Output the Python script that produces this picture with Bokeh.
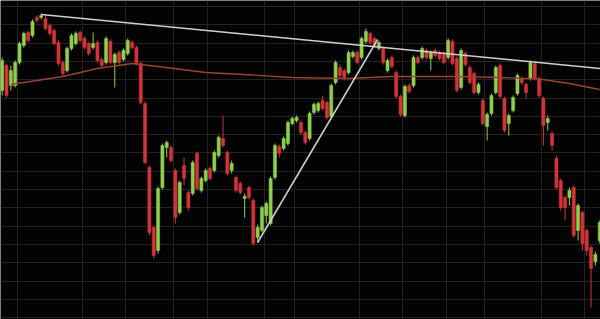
from bokeh.plotting import figure
from bokeh.models import Range1d, FixedTicker, ColumnDataSource
from bokeh.embed import file_html
from bokeh.resources import INLINE
import numpy as np

# Daily OHLC prices, one entry per session
opens = [310, 335, 315, 315, 338, 355, 368, 365, 383, 383, 382, 375, 370, 358, 338, 330, 352, 357, 368, 362,
         357, 353, 358, 341, 338, 359, 338, 348, 341, 347, 358, 353, 337, 297, 233, 173, 150, 213, 253, 253,
         230, 188, 235, 208, 207, 247, 210, 220, 232, 230, 245, 262, 248, 230, 223, 217, 202, 213, 200, 163,
         170, 185, 177, 223, 254, 252, 257, 277, 280, 278, 268, 262, 288, 290, 300, 298, 284, 318, 333, 330,
         328, 344, 348, 343, 359, 367, 362, 352, 352, 330, 343, 328, 304, 285, 315, 315, 343, 343, 350, 342,
         350, 348, 347, 343, 359, 342, 313, 347, 333, 327, 308, 300, 274, 287, 308, 335, 302, 277, 290, 307,
         322, 316, 322, 337, 322, 302, 278, 267, 242, 220, 203, 203, 213, 170, 188, 170, 153, 139, 160]
highs = [343, 337, 335, 340, 359, 369, 370, 381, 385, 387, 385, 377, 372, 360, 340, 354, 367, 369, 370, 364,
         359, 368, 360, 343, 364, 361, 348, 350, 352, 362, 360, 355, 339, 299, 235, 175, 214, 257, 260, 255,
         232, 220, 243, 210, 240, 249, 224, 232, 234, 250, 265, 285, 250, 240, 225, 219, 207, 215, 202, 176,
         195, 199, 224, 257, 256, 264, 280, 284, 285, 280, 270, 289, 298, 299, 305, 300, 317, 340, 336, 332,
         350, 350, 350, 364, 372, 369, 364, 360, 354, 342, 345, 330, 306, 316, 317, 345, 345, 354, 352, 350,
         352, 350, 349, 362, 361, 344, 352, 349, 335, 329, 318, 302, 288, 307, 335, 337, 304, 287, 305, 327,
         324, 318, 340, 339, 324, 304, 285, 269, 245, 222, 205, 213, 215, 197, 190, 172, 155, 149, 180]
lows = [305, 303, 310, 313, 336, 353, 358, 363, 378, 381, 370, 365, 355, 335, 324, 328, 350, 355, 358, 351,
        345, 351, 338, 333, 336, 336, 313, 336, 339, 345, 351, 335, 296, 236, 165, 142, 147, 211, 243, 238,
        177, 186, 215, 190, 205, 210, 208, 218, 220, 228, 243, 253, 225, 227, 208, 206, 183, 201, 155, 158,
        168, 177, 175, 221, 243, 250, 255, 275, 278, 266, 256, 260, 286, 288, 290, 281, 282, 316, 322, 320,
        326, 342, 336, 341, 357, 356, 353, 350, 336, 328, 332, 302, 284, 283, 307, 313, 336, 341, 341, 330,
        343, 340, 336, 341, 335, 308, 311, 334, 316, 306, 306, 275, 260, 285, 306, 302, 268, 265, 288, 305,
        316, 302, 320, 320, 303, 255, 270, 250, 211, 190, 180, 195, 163, 160, 150, 145, 93, 135, 157]
closes = [340, 305, 330, 338, 357, 367, 360, 379, 380, 385, 372, 367, 357, 337, 327, 352, 365, 367, 360, 353,
          347, 357, 340, 335, 362, 338, 346, 338, 350, 360, 353, 337, 298, 238, 168, 145, 212, 255, 258, 240,
          183, 218, 222, 193, 238, 212, 222, 230, 222, 248, 263, 255, 227, 237, 210, 208, 204, 203, 157, 173,
          193, 197, 222, 255, 247, 262, 278, 282, 283, 268, 258, 287, 296, 297, 292, 283, 315, 338, 325, 323,
          348, 348, 338, 362, 369, 358, 355, 358, 338, 340, 334, 304, 286, 314, 309, 343, 338, 352, 343, 348,
          345, 342, 338, 360, 337, 310, 350, 336, 318, 308, 316, 277, 286, 305, 333, 304, 270, 285, 303, 325,
          318, 308, 338, 322, 305, 275, 282, 255, 213, 193, 193, 210, 165, 195, 157, 150, 132, 146, 178]

# Moving average, sampled at selected sessions
ma_idx = [2, 14, 22, 30, 36, 47, 58, 67, 80, 90, 105, 115, 124, 131, 138]
ma_val = [316, 324, 332, 337, 334, 328, 325.5, 323, 322, 324, 324, 323, 321.5, 317, 311]

# Hand-drawn trend lines: descending resistance and rising support
resist_x = [9, 138.2]
resist_y = [386, 332]
support_x = [59, 86.7]
support_y = [158, 361]

# Period boundaries (vertical grid) between sessions
period_breaks = [3.5, 18.5, 28.5, 39.5, 47.5, 60.5, 67.5, 82.5, 92.5, 102.5, 111.5, 124.5, 134.5]

GREEN = "#90cf4c"
RED = "#d5323a"

n = len(opens)
idx = list(range(n))
up = [c >= o for o, c in zip(opens, closes)]
colors = [GREEN if u else RED for u in up]
src = ColumnDataSource(dict(
    x=idx,
    top=[max(o, c) for o, c in zip(opens, closes)],
    bottom=[min(o, c) for o, c in zip(opens, closes)],
    high=highs, low=lows, color=colors,
))

p = figure(width=600, height=319, output_backend="svg", toolbar_location=None,
           x_range=Range1d(-0.39, 138.18), y_range=Range1d(81, 400),
           min_border=0, background_fill_color="#030303", border_fill_color="#030303")
p.outline_line_color = None
p.xaxis.visible = False
p.yaxis.visible = False

p.xgrid.ticker = FixedTicker(ticks=period_breaks)
p.ygrid.ticker = FixedTicker(ticks=list(np.arange(394, 80, -18.3)))
for g in (p.xgrid, p.ygrid):
    g.grid_line_color = "#232323"
    g.grid_line_width = 1

p.segment(x0="x", y0="low", x1="x", y1="high", color="color", line_width=1, source=src)
p.vbar(x="x", top="top", bottom="bottom", width=0.72, fill_color="color",
       line_color="color", line_width=0.5, source=src)

p.line(ma_idx, ma_val, line_color="#9a4432", line_width=1.3)
p.line(resist_x, resist_y, line_color="#d0d0d0", line_width=1.5)
p.line(support_x, support_y, line_color="#d0d0d0", line_width=1.5)

open("out.html", "w").write(file_html(p, INLINE))
